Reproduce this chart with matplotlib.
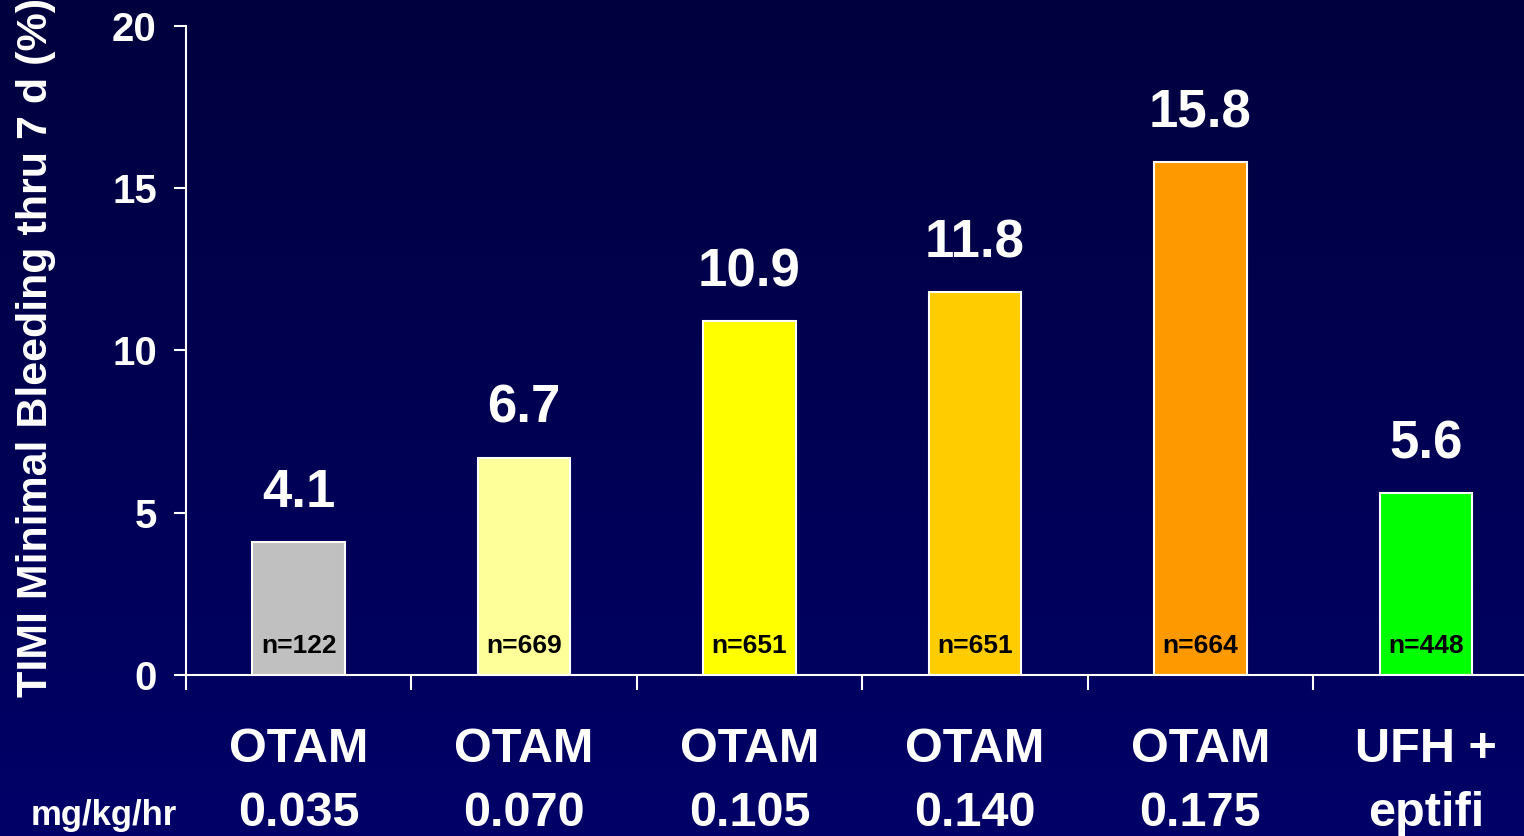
import numpy as np
import matplotlib.pyplot as plt

# bleeding rates per arm
groups = ["OTAM", "OTAM", "OTAM", "OTAM", "OTAM", "UFH +"]
doses = ["0.035", "0.070", "0.105", "0.140", "0.175", "eptifi"]
rates = [4.1, 6.7, 10.9, 11.8, 15.8, 5.6]
n_pts = [122, 669, 651, 651, 664, 448]
colors = ["#C0C0C0", "#FFFF99", "#FFFF00", "#FFCC00", "#FF9900", "#00FF00"]

plt.rcParams['font.family'] = ['Liberation Sans', 'DejaVu Sans']
plt.rcParams['font.weight'] = 'bold'

fig = plt.figure(figsize=(15.24, 8.36), dpi=100)

# dark blue vertical gradient behind everything
bg = fig.add_axes([0, 0, 1, 1], zorder=-1)
grad = np.linspace(0, 1, 256).reshape(-1, 1)
top = np.array([0, 0, 62]) / 255
bot = np.array([0, 0, 104]) / 255
img = top + (bot - top) * grad[:, :, None]
bg.imshow(img, aspect='auto', extent=[0, 1, 0, 1], origin='upper')
bg.axis('off')

ax = fig.add_axes([0.122, 0.1926, 0.8875, 0.7763])
ax.patch.set_alpha(0)
x = np.arange(len(rates))
ax.bar(x, rates, width=0.41, color=colors, edgecolor='white', linewidth=1.5, zorder=2)
ax.set_xlim(-0.5, 5.5)
ax.set_ylim(0, 20)

for s in ['top', 'right']:
    ax.spines[s].set_visible(False)
for s in ['left', 'bottom']:
    ax.spines[s].set_color('white')
    ax.spines[s].set_linewidth(1.5)

ax.set_yticks([0, 5, 10, 15, 20])
ax.tick_params(axis='y', colors='white', length=9, width=1.5, pad=12, labelsize=29)
for lbl in ax.get_yticklabels():
    lbl.set_fontweight('bold')
ax.set_xticks(np.arange(-0.5, 5.5, 1))
ax.set_xticklabels([])
ax.tick_params(axis='x', colors='white', length=11, width=1.5)

for i in range(len(rates)):
    ax.annotate(f"{rates[i]}", xy=(x[i], rates[i]), xytext=(0, 17), textcoords='offset points',
                ha='center', va='bottom', color='white', fontsize=38, fontweight='bold')
    ax.annotate(f"n={n_pts[i]}", xy=(x[i], 0), xytext=(0, 21), textcoords='offset points',
                ha='center', va='center', color='black', fontsize=19, fontweight='bold')
    ax.annotate(groups[i], xy=(x[i], 0), xycoords=('data', 'axes fraction'),
                xytext=(0, -54), textcoords='offset points', ha='center', va='center',
                color='white', fontsize=35, fontweight='bold', annotation_clip=False)
    ax.annotate(doses[i], xy=(x[i], 0), xycoords=('data', 'axes fraction'),
                xytext=(0, -100), textcoords='offset points', ha='center', va='center',
                color='white', fontsize=35, fontweight='bold', annotation_clip=False)

fig.text(104 / 1524, 1 - 815 / 836, "mg/kg/hr", ha='center', va='center',
         color='white', fontsize=25, fontweight='bold')
fig.text(36 / 1524, 139 / 836, "TIMI Minimal Bleeding thru 7 d (%)", rotation=90,
         ha='center', va='bottom', color='white', fontsize=31, fontweight='bold')

fig.savefig("out.png", dpi=100)
